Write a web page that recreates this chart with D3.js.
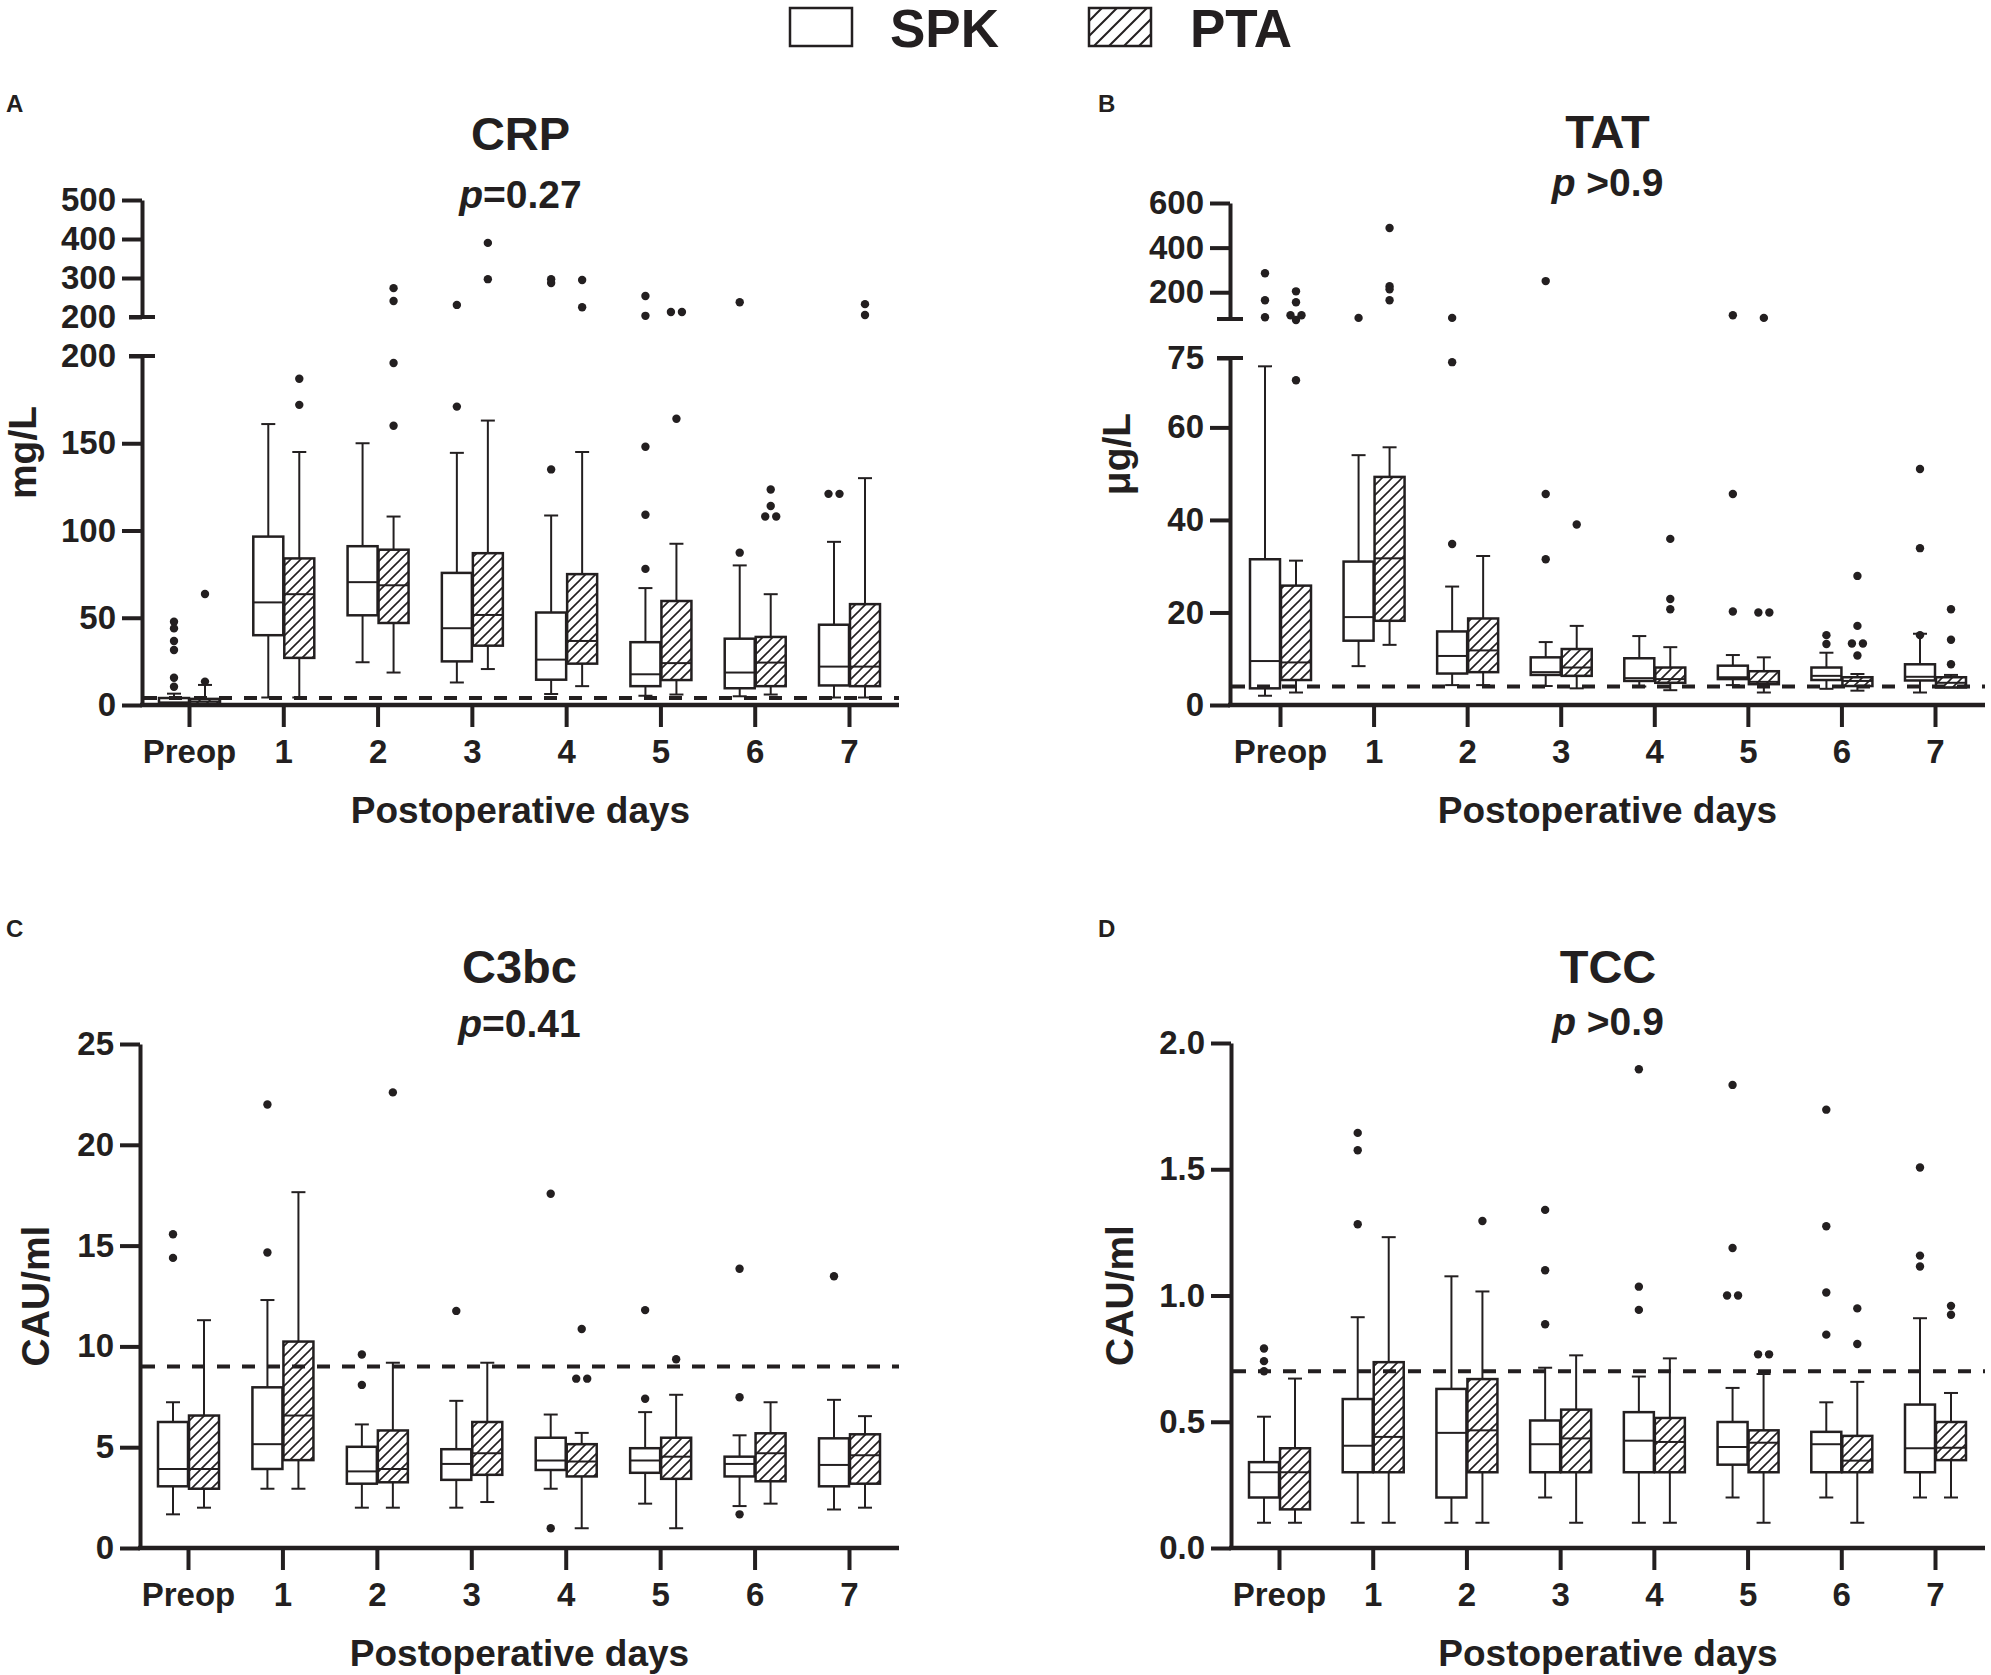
<!DOCTYPE html>
<html>
<head>
<meta charset="utf-8">
<script src="https://cdn.jsdelivr.net/npm/d3@7"></script>
<style>
  body { margin: 0; background: #fff; }
</style>
</head>
<body>
<div id="chart"></div>
<script>
// ---- data (min, q1, median, q3, max) per day ----
const days = ["Preop", "1", "2", "3", "4", "5", "6", "7"];

const crpSPK = [[0.3, 0.8, 1.5, 4, 6.5], [4.3, 40, 58.8, 96.5, 161], [24.5, 51.4, 70.4, 91, 150], [12.9, 25, 44, 75.7, 144.5],
  [6.3, 14.5, 26, 53, 108.6], [5.3, 10.8, 17.6, 36, 67], [5, 9.6, 18.6, 38, 80], [4.3, 11.2, 22, 46, 93.5]];
const crpPTA = [[0.3, 0.8, 2, 3.5, 11.5], [4.3, 27, 63.5, 84, 145], [18.6, 47, 68.6, 89, 108], [20.6, 34, 51.6, 87, 163],
  [10.8, 23.7, 36.7, 75, 145], [6, 14.3, 24, 59.6, 92.4], [6, 10.8, 24.3, 39, 63.5], [4.3, 10.8, 22, 57.8, 130]];
const crpSPKOut = [[47.7, 43.9, 36.7, 31.5, 15.6, 10.5], [], [], [171, 231], [135, 297, 287], [78, 109, 148, 254, 203], [87.3, 238], [121, 121]];
const crpPTAOut = [[13.4, 63.6], [187, 172], [196, 160, 274, 241], [390, 297], [295, 225], [164, 213, 213], [123.5, 114, 108, 108], [233, 205]];

const tatSPK = [[2, 3.6, 9.5, 31.5, 73.2], [8.4, 13.9, 19, 31, 54], [4.3, 6.8, 10.6, 15.9, 25.6], [4.1, 6.5, 7.1, 10.3, 13.6],
  [4, 5.2, 5.8, 10.1, 14.9], [4.3, 5.6, 6, 8.5, 10.8], [3.5, 5.4, 6.3, 8.1, 11.3], [2.7, 5.3, 6.1, 8.8, 15.4]];
const tatPTA = [[2.7, 5.4, 9.2, 25.8, 31.2], [13, 18.2, 31.7, 49.3, 55.7], [4.3, 7.1, 11.8, 18.7, 32.2], [3.6, 6.3, 8.1, 12.1, 17.1],
  [3.2, 4.8, 5.6, 8.1, 12.5], [2.7, 4.5, 5, 7.3, 10.3], [3.1, 4.1, 5.2, 6, 6.7], [3.8, 3.8, 4.8, 6, 6.5]];
const tatSPKOut = [[285, 164, 88], [85], [34.8, 74.1, 85], [31.5, 45.6, 250], [], [45.6, 20.2, 97], [15.1, 13.2], [51, 33.9, 15.1]];
const tatPTAOut = [[75.4, 70.2, 204, 155, 97, 97], [488, 227, 213, 164], [], [39], [35.9, 22.9, 20.7], [20, 20, 85], [27.9, 17.1, 13.3, 13.3, 10.7], [20.7, 14.1, 8.8]];

const c3SPK = [[1.67, 3.06, 3.92, 6.25, 7.23], [2.94, 3.92, 5.15, 7.97, 12.3], [2, 3.19, 3.8, 5.02, 6.13], [2, 3.38, 4.17, 4.9, 7.3],
  [2.94, 3.87, 4.34, 5.47, 6.62], [2.2, 3.73, 4.34, 4.95, 6.74], [2.08, 3.55, 4.17, 4.53, 5.59], [1.91, 3.06, 4.12, 5.44, 7.35]];
const c3PTA = [[2, 2.94, 3.92, 6.57, 11.3], [2.94, 4.36, 6.57, 10.24, 17.65], [2, 3.26, 3.92, 5.83, 9.19], [2.28, 3.63, 4.7, 6.25, 9.19],
  [0.98, 3.55, 4.29, 5.15, 5.71], [0.98, 3.43, 4.53, 5.47, 7.6], [2.2, 3.31, 4.7, 5.69, 7.23], [2, 3.19, 4.6, 5.64, 6.54]];
const c3SPKOut = [[15.56, 14.39], [14.66, 22], [9.6, 8.09], [11.76], [17.57, 0.98], [11.8, 7.4], [13.85, 7.48, 1.67], [13.48]];
const c3PTAOut = [[], [], [22.6], [], [10.86, 8.4, 8.4], [9.36], [], []];

const tccSPK = [[0.1, 0.2, 0.3, 0.34, 0.52], [0.1, 0.3, 0.405, 0.59, 0.914], [0.1, 0.2, 0.456, 0.63, 1.076], [0.2, 0.3, 0.411, 0.505, 0.714],
  [0.1, 0.3, 0.425, 0.538, 0.679], [0.2, 0.33, 0.4, 0.499, 0.634], [0.2, 0.3, 0.411, 0.46, 0.577], [0.2, 0.3, 0.395, 0.568, 0.91]];
const tccPTA = [[0.1, 0.153, 0.3, 0.395, 0.671], [0.1, 0.3, 0.44, 0.736, 1.231], [0.1, 0.3, 0.466, 0.669, 1.016], [0.1, 0.3, 0.434, 0.548, 0.763],
  [0.1, 0.3, 0.42, 0.515, 0.751], [0.1, 0.3, 0.417, 0.466, 0.689], [0.1, 0.3, 0.346, 0.444, 0.658], [0.2, 0.348, 0.397, 0.499, 0.614]];
const tccSPKOut = [[0.79, 0.74, 0.7], [1.644, 1.575, 1.282], [], [1.339, 1.1, 0.886], [1.896, 1.035, 0.943], [1.834, 1.188, 1, 1], [1.736, 1.274, 1.012, 0.845], [1.507, 1.158, 1.115]];
const tccPTAOut = [[], [], [1.295], [], [], [0.767, 0.767], [0.949, 0.808], [0.959, 0.924]];

// ---- drawing ----
const ink = '#231f20';
const width = 1991, height = 1675;
const fontFamily = "'Liberation Sans', Arial, Helvetica, sans-serif";

const svg = d3.select('#chart').append('svg')
  .attr('width', width)
  .attr('height', height)
  .style('font-family', fontFamily)
  .style('font-weight', 'bold');

const defs = svg.append('defs');
function addHatch(id, s, sw) {
  const p = defs.append('pattern')
    .attr('id', id)
    .attr('patternUnits', 'userSpaceOnUse')
    .attr('width', s).attr('height', s);
  p.append('rect').attr('width', s).attr('height', s).attr('fill', '#fff');
  p.append('path')
    .attr('d', `M${-s / 4},${s / 4}L${s / 4},${-s / 4}M0,${s}L${s},0M${s * 3 / 4},${s * 5 / 4}L${s * 5 / 4},${s * 3 / 4}`)
    .attr('stroke', ink)
    .attr('stroke-width', sw);
}
addHatch('hatch', 10, 1.6);
addHatch('hatchLegend', 15, 2);

// Legend
const legend = svg.append('g');
legend.append('rect').attr('x', 790).attr('y', 8).attr('width', 62).attr('height', 38)
  .attr('fill', '#fff').attr('stroke', ink).attr('stroke-width', 2.5);
legend.append('text').attr('x', 890).attr('y', 47).attr('font-size', 53).attr('fill', ink).text('SPK');
legend.append('rect').attr('x', 1089).attr('y', 8).attr('width', 62).attr('height', 38)
  .attr('fill', 'url(#hatchLegend)').attr('stroke', ink).attr('stroke-width', 2.5);
legend.append('text').attr('x', 1190).attr('y', 47).attr('font-size', 53).attr('fill', ink).text('PTA');

const panels = [
  { letter: 'A', lx: 6, ly: 112, title: 'CRP', pText: '=0.27', titleY: 150, pY: 208,
    axisX: 142, x0: 189, x1: 849,
    segments: [{ domain: [0, 200], range: [705, 356], ticks: [0, 50, 100, 150, 200] },
               { domain: [200, 500], range: [317, 200], ticks: [200, 300, 400, 500] }],
    fmt: d3.format('d'), threshold: 4, yLabel: 'mg/L', yLabelX: 36,
    spk: crpSPK, pta: crpPTA, spkOut: crpSPKOut, ptaOut: crpPTAOut },
  { letter: 'B', lx: 1098, ly: 112, title: 'TAT', pText: ' >0.9', titleY: 148, pY: 196,
    axisX: 1230, x0: 1280, x1: 1935,
    segments: [{ domain: [0, 75], range: [705, 358], ticks: [0, 20, 40, 60, 75] },
               { domain: [80, 600], range: [319, 203], ticks: [200, 400, 600] }],
    fmt: d3.format('d'), threshold: 4, yLabel: 'μg/L', yLabelX: 1130,
    spk: tatSPK, pta: tatPTA, spkOut: tatSPKOut, ptaOut: tatPTAOut },
  { letter: 'C', lx: 6, ly: 937, title: 'C3bc', pText: '=0.41', titleY: 983, pY: 1037,
    axisX: 140, x0: 188, x1: 849,
    segments: [{ domain: [0, 25], range: [1548, 1044], ticks: [0, 5, 10, 15, 20, 25] }],
    fmt: d3.format('d'), threshold: 9, yLabel: 'CAU/ml', yLabelX: 49,
    spk: c3SPK, pta: c3PTA, spkOut: c3SPKOut, ptaOut: c3PTAOut },
  { letter: 'D', lx: 1098, ly: 937, title: 'TCC', pText: ' >0.9', titleY: 983, pY: 1035,
    axisX: 1231, x0: 1279, x1: 1935,
    segments: [{ domain: [0, 2], range: [1548, 1043], ticks: [0, 0.5, 1, 1.5, 2] }],
    fmt: d3.format('.1f'), threshold: 0.7, yLabel: 'CAU/ml', yLabelX: 1133,
    spk: tccSPK, pta: tccPTA, spkOut: tccSPKOut, ptaOut: tccPTAOut }
];

function drawPanel(p) {
  const g = svg.append('g');
  const x = d3.scalePoint().domain(days).range([p.x0, p.x1]);
  const scales = p.segments.map(s => d3.scaleLinear().domain(s.domain).range(s.range));
  const split = p.segments[0].domain[1];
  const y = v => (scales.length > 1 && v > split) ? scales[1](v) : scales[0](v);
  const axisY = scales[0](0);
  const xEnd = p.x1 + 50;
  const mid = (p.axisX + xEnd) / 2;

  // panel letter, title, p value
  g.append('text').attr('x', p.lx).attr('y', p.ly).attr('font-size', 24).attr('fill', ink).text(p.letter);
  g.append('text').attr('x', mid).attr('y', p.titleY).attr('text-anchor', 'middle')
    .attr('font-size', 47).attr('fill', ink).text(p.title);
  const pt = g.append('text').attr('x', mid).attr('y', p.pY).attr('text-anchor', 'middle')
    .attr('font-size', 39).attr('fill', ink);
  pt.append('tspan').attr('font-style', 'italic').text('p');
  pt.append('tspan').text(p.pText);

  // y axis segments
  p.segments.forEach((s, i) => {
    const ax = g.append('g')
      .attr('transform', `translate(${p.axisX},0)`)
      .call(d3.axisLeft(scales[i]).tickValues(s.ticks).tickFormat(p.fmt).tickSize(20).tickSizeOuter(0).tickPadding(6));
    ax.select('.domain').attr('stroke', ink).attr('stroke-width', 4);
    ax.selectAll('.tick line').attr('stroke', ink).attr('stroke-width', 4);
    ax.selectAll('.tick text').attr('fill', ink).attr('font-size', 33)
      .style('font-family', fontFamily).style('font-weight', 'bold');
    if (p.segments.length > 1) {
      const capVal = i === 0 ? s.domain[1] : s.domain[0];
      const cy = scales[i](capVal);
      ax.append('line').attr('x1', -13).attr('x2', 13).attr('y1', cy).attr('y2', cy)
        .attr('stroke', ink).attr('stroke-width', 4);
      ax.selectAll('.tick').filter(d => d === capVal).select('line').attr('x2', -13);
    }
  });

  // y label
  const yTop = d3.min(p.segments, s => s.range[1]);
  g.append('text')
    .attr('transform', `translate(${p.yLabelX},${(yTop + axisY) / 2}) rotate(-90)`)
    .attr('text-anchor', 'middle').attr('font-size', 39).attr('fill', ink).text(p.yLabel);

  // x axis
  const xa = g.append('g')
    .attr('transform', `translate(0,${axisY})`)
    .call(d3.axisBottom(x).tickSize(22).tickPadding(13));
  xa.select('.domain').remove();
  xa.selectAll('.tick line').attr('stroke', ink).attr('stroke-width', 4);
  xa.selectAll('.tick text').attr('fill', ink).attr('font-size', 33)
    .style('font-family', fontFamily).style('font-weight', 'bold');
  g.append('line').attr('x1', p.axisX - 2).attr('x2', xEnd).attr('y1', axisY).attr('y2', axisY)
    .attr('stroke', ink).attr('stroke-width', 4.5);

  g.append('text').attr('x', mid).attr('y', axisY + 118).attr('text-anchor', 'middle')
    .attr('font-size', 37).attr('fill', ink).text('Postoperative days');

  // boxes
  const halfW = 15, capW = 7;
  const groups = [
    { stats: p.spk, out: p.spkOut, dx: -15, fill: '#fff' },
    { stats: p.pta, out: p.ptaOut, dx: 16, fill: 'url(#hatch)' }
  ];
  groups.forEach(grp => {
    days.forEach((d, i) => {
      const [mn, q1, md, q3, mx] = grp.stats[i];
      const cx = x(d) + grp.dx;
      const bg = g.append('g');
      bg.append('line').attr('x1', cx).attr('x2', cx).attr('y1', y(mx)).attr('y2', y(q3))
        .attr('stroke', ink).attr('stroke-width', 2);
      bg.append('line').attr('x1', cx).attr('x2', cx).attr('y1', y(q1)).attr('y2', y(mn))
        .attr('stroke', ink).attr('stroke-width', 2);
      [mn, mx].forEach(v => bg.append('line')
        .attr('x1', cx - capW).attr('x2', cx + capW).attr('y1', y(v)).attr('y2', y(v))
        .attr('stroke', ink).attr('stroke-width', 2));
      bg.append('rect').attr('x', cx - halfW).attr('y', y(q3))
        .attr('width', halfW * 2).attr('height', Math.max(1, y(q1) - y(q3)))
        .attr('fill', grp.fill).attr('stroke', ink).attr('stroke-width', 2.5);
      bg.append('line').attr('x1', cx - halfW).attr('x2', cx + halfW).attr('y1', y(md)).attr('y2', y(md))
        .attr('stroke', ink).attr('stroke-width', 2);

      // outliers; equal values sit side by side
      const counts = d3.rollup(grp.out[i], v => v.length, v => v);
      const seen = new Map();
      grp.out[i].forEach(v => {
        const k = counts.get(v);
        const j = seen.get(v) || 0;
        seen.set(v, j + 1);
        const off = (j - (k - 1) / 2) * 11;
        bg.append('circle').attr('cx', cx + off).attr('cy', y(v)).attr('r', 4.2).attr('fill', ink);
      });
    });
  });

  // reference line
  g.append('line').attr('x1', p.axisX + 2).attr('x2', xEnd).attr('y1', y(p.threshold)).attr('y2', y(p.threshold))
    .attr('stroke', ink).attr('stroke-width', 4).attr('stroke-dasharray', '13,12');
}

panels.forEach(drawPanel);
</script>
</body>
</html>
